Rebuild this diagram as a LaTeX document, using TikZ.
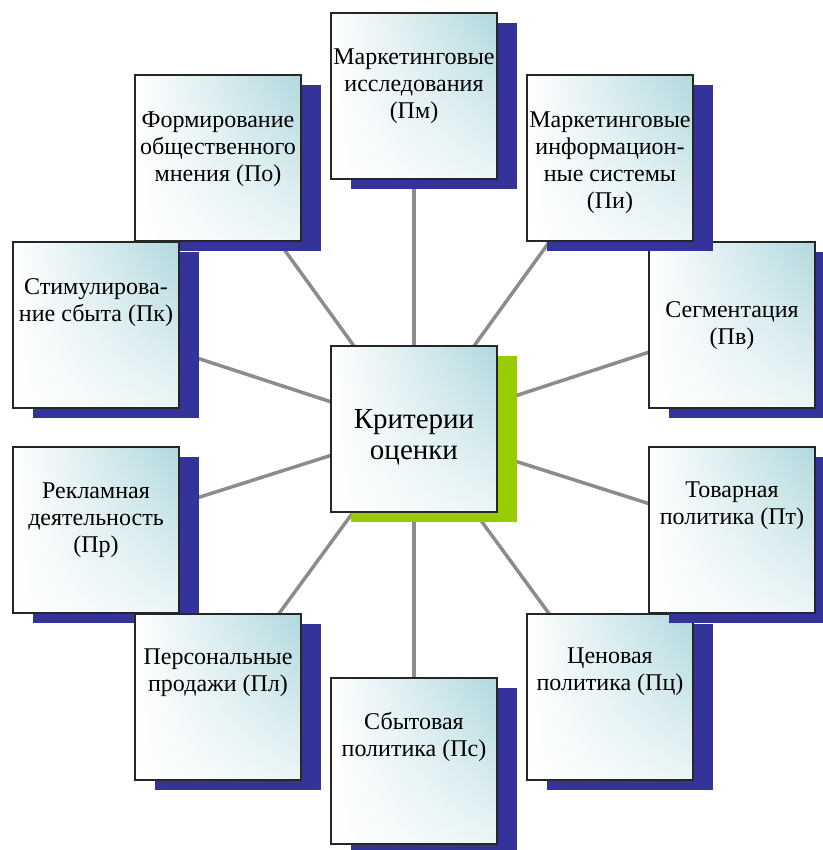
\documentclass[tikz,border=0pt]{standalone}
\usepackage{fontspec}
\setmainfont{Liberation Serif}
\newfontfamily\boxfont{Liberation Serif}
\usetikzlibrary{shadows,shadings,backgrounds}
\definecolor{shadowblue}{RGB}{51,51,153}
\definecolor{coregreen}{RGB}{153,204,0}
\definecolor{boxteal}{RGB}{176,216,222}
\definecolor{spokegray}{RGB}{140,140,140}
\newcommand{\factorbox}[5]{%
  \node[factor] (#1) at (#2,#3) {};%
  \node[caption] (#1-txt) at ([yshift=#4pt]#1.center) {#5};%
}

\begin{document}
\begin{tikzpicture}[x=1pt,y=-1pt,
    panel/.style={draw=black!85,line width=1.4pt,minimum size=166pt,inner sep=0pt,
      upper left=white,lower left=white,upper right=boxteal,lower right=boxteal!25},
    factor/.style={panel,general shadow={fill=shadowblue,shadow xshift=20pt,shadow yshift=-10pt}},
    core/.style={panel,general shadow={fill=coregreen,shadow xshift=20pt,shadow yshift=-10pt}},
    caption/.style={align=center,font=\boxfont\fontsize{24}{27}\selectfont},
    spoke/.style={draw=spokegray,line width=3.5pt}]
  \useasboundingbox (0,0) rectangle (822,850);
  % boxes round the centre, in drawing order
  \factorbox{pm}{414}{96}{10}{Маркетинговые\\исследования\\(Пм)}
  \factorbox{po}{218}{158}{9}{Формирование\\общественного\\мнения (По)}
  \factorbox{pk}{96}{325}{22}{Стимулирова-\\ние сбыта (Пк)}
  \factorbox{pv}{732}{325}{-1}{Сегментация\\(Пв)}
  \factorbox{pi}{610}{158}{-5}{Маркетинговые\\информацион-\\ные системы\\(Пи)}
  \factorbox{pr}{96}{530}{10}{Рекламная\\деятельность\\(Пр)}
  \factorbox{pl}{218}{697}{24}{Персональные\\продажи (Пл)}
  \factorbox{pc}{610}{697}{25}{Ценовая\\политика (Пц)}
  \factorbox{pt}{732}{530}{24}{Товарная\\политика (Пт)}
  \factorbox{ps}{414}{761}{24}{Сбытовая\\политика (Пс)}
  % centre
  \node[core] (crit) at (414,429) {};
  \node[caption,font=\boxfont\fontsize{29}{31}\selectfont] (crit-txt) at ([yshift=-8pt]crit.center) {Критерии\\оценки};
  \begin{scope}[on background layer]
    \foreach \f in {pm,po,pi,pk,pv,pr,pt,pl,pc,ps}
      \draw[spoke] (crit.center) -- (\f.center);
  \end{scope}
\end{tikzpicture}
\end{document}
